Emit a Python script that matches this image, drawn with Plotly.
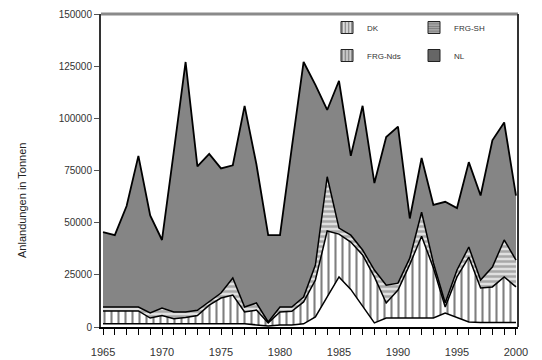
import plotly.graph_objects as go

years = list(range(1965, 2001))

dk = [1500, 1500, 1500, 1500, 1500, 1500, 1500, 1500, 1500, 1500, 1500, 1500,
      1500, 1000, 500, 1000, 1000, 1500, 4800, 14400, 24000, 18000, 10000, 2000,
      4300, 4300, 4300, 4300, 4300, 6700, 4500, 2400, 2200, 2200, 2200, 2200]

frg_sh = [6200, 6200, 6200, 6200, 2800, 4000, 2500, 3000, 4000, 9000, 12400, 13800,
          5700, 7100, 1400, 6200, 6500, 10500, 17700, 31600, 20500, 22700, 24500, 22000,
          7200, 13400, 25700, 39200, 24000, 2900, 19500, 31100, 16500, 17000, 21800, 17000]

frg_nds = [1900, 1900, 1900, 1900, 2400, 3600, 3200, 2700, 2500, 1500, 2400, 8200,
           2400, 3400, 500, 2400, 2100, 2400, 7200, 26000, 2900, 3300, 2400, 3300,
           8500, 3300, 3000, 11500, 2400, 1900, 3300, 4800, 3800, 9500, 17700, 12900]

nl = [35900, 34400, 48400, 72400, 46800, 32600, 76800, 119800, 69000, 71000, 59700, 54000,
      96400, 66500, 41600, 34400, 76400, 112600, 86300, 32000, 70600, 38000, 69100, 41700,
      71000, 75000, 19000, 26000, 27800, 48500, 29700, 40700, 40500, 60800, 56300, 30900]

names = ["DK", "FRG-SH", "FRG-Nds", "NL"]
y_ticks = [0, 25000, 50000, 75000, 100000, 125000, 150000]
x_ticks = [1965, 1970, 1975, 1980, 1985, 1990, 1995, 2000]
y_title = "Anlandungen in Tonnen"

sh_pattern = dict(shape="|", fgcolor="black", bgcolor="white", size=7, solidity=0.3)
nds_pattern = dict(shape="-", fgcolor="#707070", bgcolor="#e0e0e0", size=5, solidity=0.5)
nl_color = "#858585"

fig = go.Figure()

fig.add_trace(go.Scatter(
    x=years, y=dk, name=names[0], stackgroup="one", mode="lines",
    line=dict(color="black", width=1.5), fillcolor="white", showlegend=False))
fig.add_trace(go.Scatter(
    x=years, y=frg_sh, name=names[1], stackgroup="one", mode="lines",
    line=dict(color="black", width=1.5), fillcolor="white",
    fillpattern=sh_pattern, showlegend=False))
fig.add_trace(go.Scatter(
    x=years, y=frg_nds, name=names[2], stackgroup="one", mode="lines",
    line=dict(color="black", width=1.5), fillcolor="white",
    fillpattern=nds_pattern, showlegend=False))
fig.add_trace(go.Scatter(
    x=years, y=nl, name=names[3], stackgroup="one", mode="lines",
    line=dict(color="black", width=1.8), fillcolor=nl_color, showlegend=False))

# legend entries (square keys)
fig.add_trace(go.Bar(x=[None], y=[None], name=names[0], legend="legend",
                     marker=dict(color="#dddddd", line=dict(color="#222", width=1),
                                 pattern=dict(shape="|", fgcolor="#222", bgcolor="#dddddd",
                                              size=4, solidity=0.4))))
fig.add_trace(go.Bar(x=[None], y=[None], name=names[1], legend="legend",
                     marker=dict(color="#999", line=dict(color="#222", width=1),
                                 pattern=dict(shape="-", fgcolor="#444", bgcolor="#aaa",
                                              size=3, solidity=0.4))))
fig.add_trace(go.Bar(x=[None], y=[None], name=names[2], legend="legend2",
                     marker=dict(color="#ccc", line=dict(color="#222", width=1),
                                 pattern=dict(shape="|", fgcolor="#333", bgcolor="#ccc",
                                              size=4, solidity=0.4))))
fig.add_trace(go.Bar(x=[None], y=[None], name=names[3], legend="legend2",
                     marker=dict(color="#666", line=dict(color="#222", width=1))))

font_family = "Liberation Sans, Arial, sans-serif"

L, R, T, B = 101, 24, 14, 33
pw = 542 - L - R
ph = 360 - T - B

leg_x = (327 - L) / pw
leg_common = dict(orientation="h", x=leg_x, xanchor="left", yanchor="top",
                  bgcolor="rgba(0,0,0,0)", font=dict(size=8, color="#333"),
                  entrywidth=42, itemwidth=30, tracegroupgap=0, traceorder="normal")

fig.update_layout(
    width=542, height=360,
    margin=dict(l=L, r=R, t=T, b=B, autoexpand=False),
    paper_bgcolor="white", plot_bgcolor="white",
    font=dict(family=font_family, color="#333"),
    showlegend=True,
    legend=dict(y=(327 - 13) / ph, **leg_common),
    legend2=dict(y=(327 - 41) / ph, **leg_common),
    xaxis=dict(range=[1964.83, 2000.17], tickvals=x_ticks, ticks="outside", ticklen=6,
               tickcolor="black", showline=True, linecolor="black", linewidth=1.5,
               showgrid=False, zeroline=False, tickfont=dict(size=11, color="#333"),
               ticklabelstandoff=8, automargin=False,
               minor=dict(dtick=1, tick0=1965, ticks="outside", ticklen=6, tickcolor="black")),
    yaxis=dict(range=[0, 150000], tickvals=y_ticks, ticktext=[str(v) for v in y_ticks],
               ticks="outside", ticklen=5, tickcolor="#555", showline=True,
               linecolor="#333", linewidth=2, showgrid=False, zeroline=False,
               tickfont=dict(size=10, color="#333"), automargin=False),
    annotations=[dict(text=y_title, textangle=-90, x=(22 - L) / pw, y=(327 - 201) / ph,
                      xref="paper", yref="paper", xanchor="center", yanchor="middle",
                      showarrow=False, font=dict(size=11, color="#222"))],
)

fig.add_shape(type="line", xref="paper", yref="paper", x0=0, x1=1, y0=1, y1=1,
              line=dict(color="#8a8a8a", width=3))
fig.add_shape(type="line", xref="paper", yref="paper", x0=1, x1=1, y0=0, y1=1,
              line=dict(color="#333", width=2))

fig.write_html("out.html", config={"displayModeBar": False},
               post_script="document.body.style.margin='0';document.body.style.padding='0';")
